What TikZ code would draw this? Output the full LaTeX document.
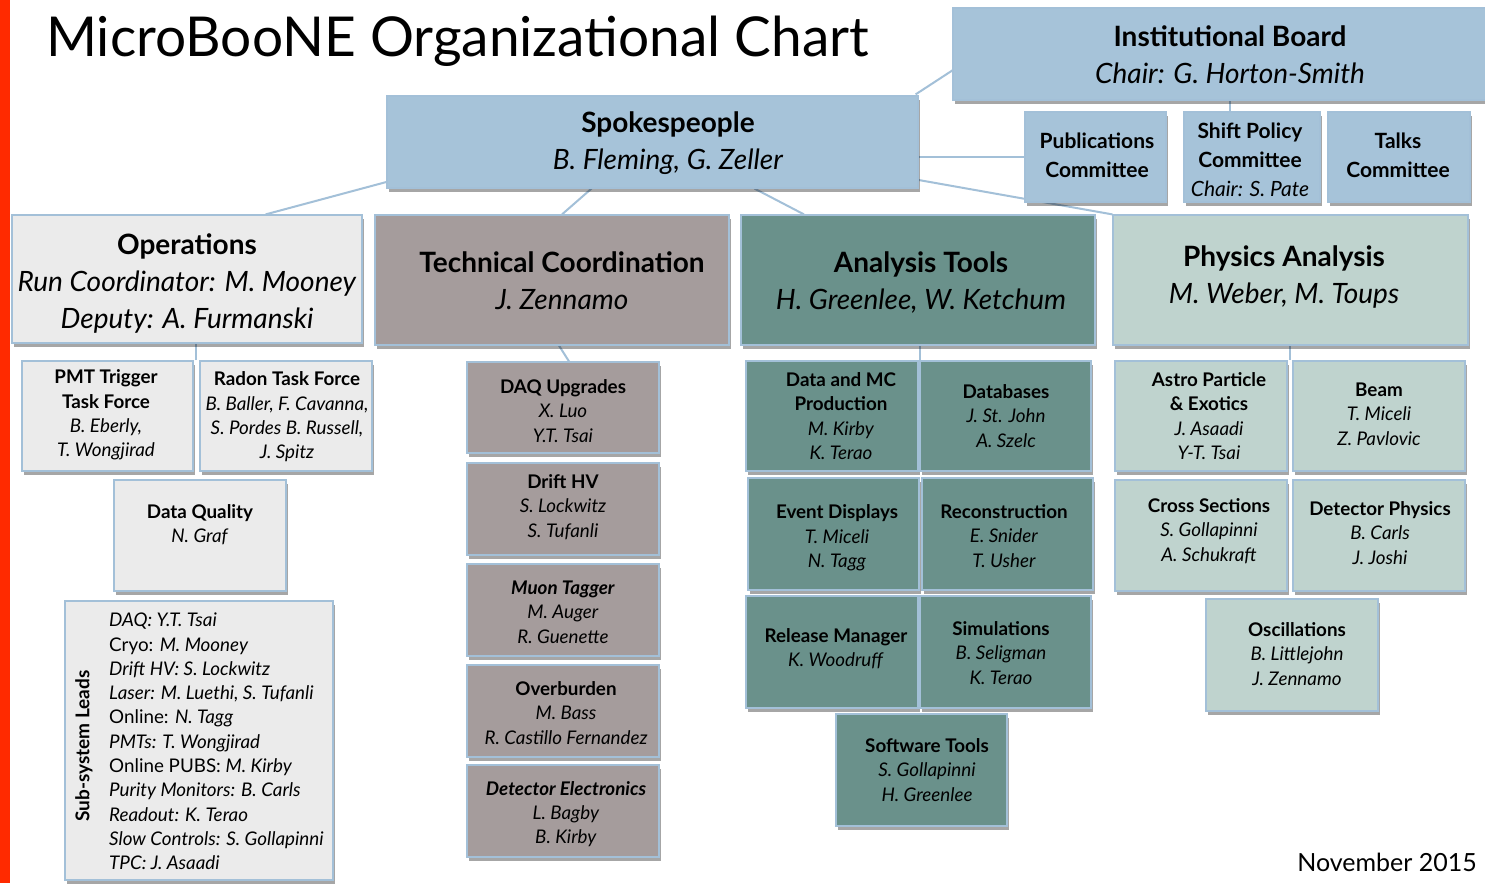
\documentclass[tikz,border=0pt]{standalone}
\usepackage{fontspec}
\setmainfont{Lato}
\usetikzlibrary{shadows,backgrounds}
\definecolor{bblue}{HTML}{A6C3D9}
\definecolor{opgray}{HTML}{EBEBEB}
\definecolor{tcgray}{HTML}{A59C9C}
\definecolor{atteal}{HTML}{6A918B}
\definecolor{pagreen}{HTML}{BFD3CE}
\definecolor{edgeblue}{HTML}{A3C0D8}
\definecolor{redbar}{HTML}{FF2A00}
\newcommand\mkbox[6]{\node[boxst,#6,minimum width={(#4-#2)*1pt},minimum height={(#5-#3)*1pt}] (#1) at ({(#2+#4)/2},{(#3+#5)/2}) {};}
\begin{document}
\begin{tikzpicture}[x=1pt,y=-1pt,
  boxst/.style={draw=edgeblue, line width=1.2pt, inner sep=0pt,
    drop shadow={shadow xshift=1.5pt, shadow yshift=-3.5pt, fill=black, opacity=0.35}},
  link/.style={draw=edgeblue, line width=2pt},
  bigtxt/.style={align=center, inner sep=0pt, font=\fontsize{28}{37}\selectfont},
  subtxt/.style={align=center, inner sep=0pt, font=\fontsize{18.8}{24.3}\selectfont},
  comtxt/.style={align=center, inner sep=0pt, font=\fontsize{21}{29}\selectfont},
]
\useasboundingbox (0,0) rectangle (1485,883);
\begin{scope}[on background layer]
\fill[white] (0,0) rectangle (1485,883);
\end{scope}
\fill[redbar] (0,0) rectangle (10,883);

\node[anchor=west, inner sep=0pt, font=\fontsize{55}{62}\selectfont] (title) at (46,41) {MicroBooNE Organizational Chart};
\node[anchor=east, inner sep=0pt, font=\fontsize{25}{28}\selectfont] (date) at (1477,862) {November 2015};

\coordinate (ibl) at (953,70);

% ---------- top boxes ----------
\mkbox{ib}{953}{8}{1490}{100}{fill=bblue}
\node[bigtxt] (ibt) at (1230,55) {\textbf{Institutional Board}\\\textit{Chair: G. Horton-Smith}};
\mkbox{sp}{387}{96}{918}{188}{fill=bblue}
\node[bigtxt] (spt) at (668,143) {\textbf{Spokespeople}\\\textit{B. Fleming, G. Zeller}};

\mkbox{pub}{1025}{112}{1166}{202}{fill=bblue}
\node[comtxt] (pubt) at (1097,155) {\textbf{Publications}\\\textbf{Committee}};
\mkbox{shift}{1184}{112}{1320}{202}{fill=bblue}
\node[comtxt] (shiftt) at (1250,160) {\textbf{Shift Policy}\\\textbf{Committee}\\\textit{Chair: S. Pate}};
\mkbox{talks}{1328}{112}{1470}{202}{fill=bblue}
\node[comtxt] (talkst) at (1398,155) {\textbf{Talks}\\\textbf{Committee}};

% ---------- level 2 ----------
\mkbox{ops}{12}{215}{362}{343}{fill=opgray}
\node[bigtxt] (opst) at (187,283) {\textbf{Operations}\\\textit{Run Coordinator: M. Mooney}\\\textit{Deputy: A. Furmanski}};
\mkbox{tc}{375}{215}{729}{345}{fill=tcgray}
\node[bigtxt] (tct) at (562,281) {\textbf{Technical Coordination}\\\textit{J. Zennamo}};
\mkbox{at}{741}{215}{1095}{345}{fill=atteal}
\node[bigtxt] (att) at (921,282) {\textbf{Analysis Tools}\\\textit{H. Greenlee, W. Ketchum}};
\mkbox{pa}{1113}{215}{1468}{345}{fill=pagreen}
\node[bigtxt] (pat) at (1284,277) {\textbf{Physics Analysis}\\\textit{M. Weber, M. Toups}};

% ---------- operations children ----------
\mkbox{pmt}{22}{361}{193}{471}{fill=opgray}
\node[subtxt] (pmtt) at (106,415) {\textbf{PMT Trigger}\\\textbf{Task Force}\\\textit{B. Eberly,}\\\textit{T. Wongjirad}};
\mkbox{radon}{200}{361}{372}{471}{fill=opgray}
\node[subtxt] (radont) at (287,417) {\textbf{Radon Task Force}\\\textit{B. Baller, F. Cavanna,}\\\textit{S. Pordes B. Russell,}\\\textit{J. Spitz}};
\mkbox{dq}{114}{480}{286}{591}{fill=opgray}
\node[subtxt] (dqt) at (200,525) {\textbf{Data Quality}\\\textit{N. Graf}};
\mkbox{ssl}{65}{601}{333}{880}{fill=opgray}
\node[rotate=90, inner sep=0pt, font=\fontsize{19}{22}\selectfont\bfseries] (sslv) at (84,746) {Sub-system Leads};
\node[anchor=west, align=left, inner sep=0pt, font=\fontsize{18.8}{24.3}\selectfont] (sslt) at (109,741.5) {%
\textit{DAQ: Y.T. Tsai}\\
Cryo: \textit{M. Mooney}\\
\textit{Drift HV: S. Lockwitz}\\
\textit{Laser: M. Luethi, S. Tufanli}\\
Online: \textit{N. Tagg}\\
\textit{PMTs: T. Wongjirad}\\
Online PUBS: \textit{M. Kirby}\\
\textit{Purity Monitors: B. Carls}\\
\textit{Readout: K. Terao}\\
\textit{Slow Controls: S. Gollapinni}\\
\textit{TPC: J. Asaadi}};

% ---------- technical coordination children ----------
\mkbox{daq}{467}{362}{659}{453}{fill=tcgray}
\node[subtxt] (daqt) at (563,411) {\textbf{DAQ Upgrades}\\\textit{X. Luo}\\\textit{Y.T. Tsai}};
\mkbox{hv}{467}{463}{659}{555}{fill=tcgray}
\node[subtxt] (hvt) at (563,507) {\textbf{Drift HV}\\\textit{S. Lockwitz}\\\textit{S. Tufanli}};
\mkbox{muon}{467}{564}{659}{656}{fill=tcgray}
\node[subtxt] (muont) at (563,612) {\textbf{\textit{Muon Tagger}}\\\textit{M. Auger}\\\textit{R. Guenette}};
\mkbox{over}{467}{665}{659}{757}{fill=tcgray}
\node[subtxt] (overt) at (566,713) {\textbf{Overburden}\\\textit{M. Bass}\\\textit{R. Castillo Fernandez}};
\mkbox{elec}{467}{765}{659}{857}{fill=tcgray}
\node[subtxt] (elect) at (566,814) {\textbf{\textit{Detector Electronics}}\\\textit{L. Bagby}\\\textit{B. Kirby}};

% ---------- analysis tools children ----------
\mkbox{dmc}{746}{361}{918}{471}{fill=atteal}
\node[subtxt] (dmct) at (841,416) {\textbf{Data and MC}\\\textbf{Production}\\\textit{M. Kirby}\\\textit{K. Terao}};
\mkbox{db}{920}{361}{1091}{471}{fill=atteal}
\node[subtxt] (dbt) at (1006,416) {\textbf{Databases}\\\textit{J. St. John}\\\textit{A. Szelc}};
\mkbox{ev}{748}{478}{919}{590}{fill=atteal}
\node[subtxt] (evt) at (837,538) {\textbf{Event Displays}\\\textit{T. Miceli}\\\textit{N. Tagg}};
\mkbox{reco}{922}{478}{1093}{590}{fill=atteal}
\node[subtxt] (recot) at (1004,536) {\textbf{Reconstruction}\\\textit{E. Snider}\\\textit{T. Usher}};
\mkbox{rel}{746}{596}{918}{708}{fill=atteal}
\node[subtxt] (relt) at (836,649) {\textbf{Release Manager}\\\textit{K. Woodruff}};
\mkbox{sim}{920}{596}{1091}{708}{fill=atteal}
\node[subtxt] (simt) at (1001,653) {\textbf{Simulations}\\\textit{B. Seligman}\\\textit{K. Terao}};
\mkbox{soft}{836}{714}{1007}{826}{fill=atteal}
\node[subtxt] (softt) at (927,770) {\textbf{Software Tools}\\\textit{S. Gollapinni}\\\textit{H. Greenlee}};

% ---------- physics analysis children ----------
\mkbox{astro}{1115}{361}{1287}{471}{fill=pagreen}
\node[subtxt] (astrot) at (1209,416) {\textbf{Astro Particle}\\\textbf{\& Exotics}\\\textit{J. Asaadi}\\\textit{Y-T. Tsai}};
\mkbox{beam}{1293}{361}{1465}{471}{fill=pagreen}
\node[subtxt] (beamt) at (1379,414) {\textbf{Beam}\\\textit{T. Miceli}\\\textit{Z. Pavlovic}};
\mkbox{xs}{1115}{480}{1287}{591}{fill=pagreen}
\node[subtxt] (xst) at (1209,531) {\textbf{Cross Sections}\\\textit{S. Gollapinni}\\\textit{A. Schukraft}};
\mkbox{det}{1293}{480}{1465}{591}{fill=pagreen}
\node[subtxt] (dett) at (1380,533) {\textbf{Detector Physics}\\\textit{B. Carls}\\\textit{J. Joshi}};
\mkbox{osc}{1206}{599}{1378}{711}{fill=pagreen}
\node[subtxt] (osct) at (1297,654) {\textbf{Oscillations}\\\textit{B. Littlejohn}\\\textit{J. Zennamo}};

% ---------- connectors (behind the boxes) ----------
\begin{scope}[on background layer]
\draw[link] ([xshift=-3pt,yshift=1pt]sp.north east) -- (ibl);
\draw[link] ([xshift=-22pt]ib.south -| shift.north) -- ([xshift=-22pt]shift.north);
\draw[link] (sp.east |- pub.west) -- (pub.west);
\draw[link] ([yshift=-38pt]sp.east) -- (pa.north west);
\draw[link] ([yshift=-40pt]sp.west) -- ([xshift=-97pt]ops.north east);
\draw[link] ([xshift=-61pt]sp.south) -- ([xshift=10pt]tc.north);
\draw[link] ([xshift=102pt]sp.south) -- ([xshift=-114pt]at.north);
\draw[link] ([xshift=2pt]ops.south -| pmt.east) -- ([xshift=2pt]pmt.north east);
\draw[link] ([xshift=7pt]tc.south) -- ([xshift=6pt]daq.north);
\draw[link] ([xshift=1pt]at.south -| dmc.east) -- ([xshift=1pt]dmc.north east);
\draw[link] ([xshift=2pt]pa.south -| astro.east) -- ([xshift=2pt]astro.north east);
\end{scope}
\end{tikzpicture}
\end{document}
